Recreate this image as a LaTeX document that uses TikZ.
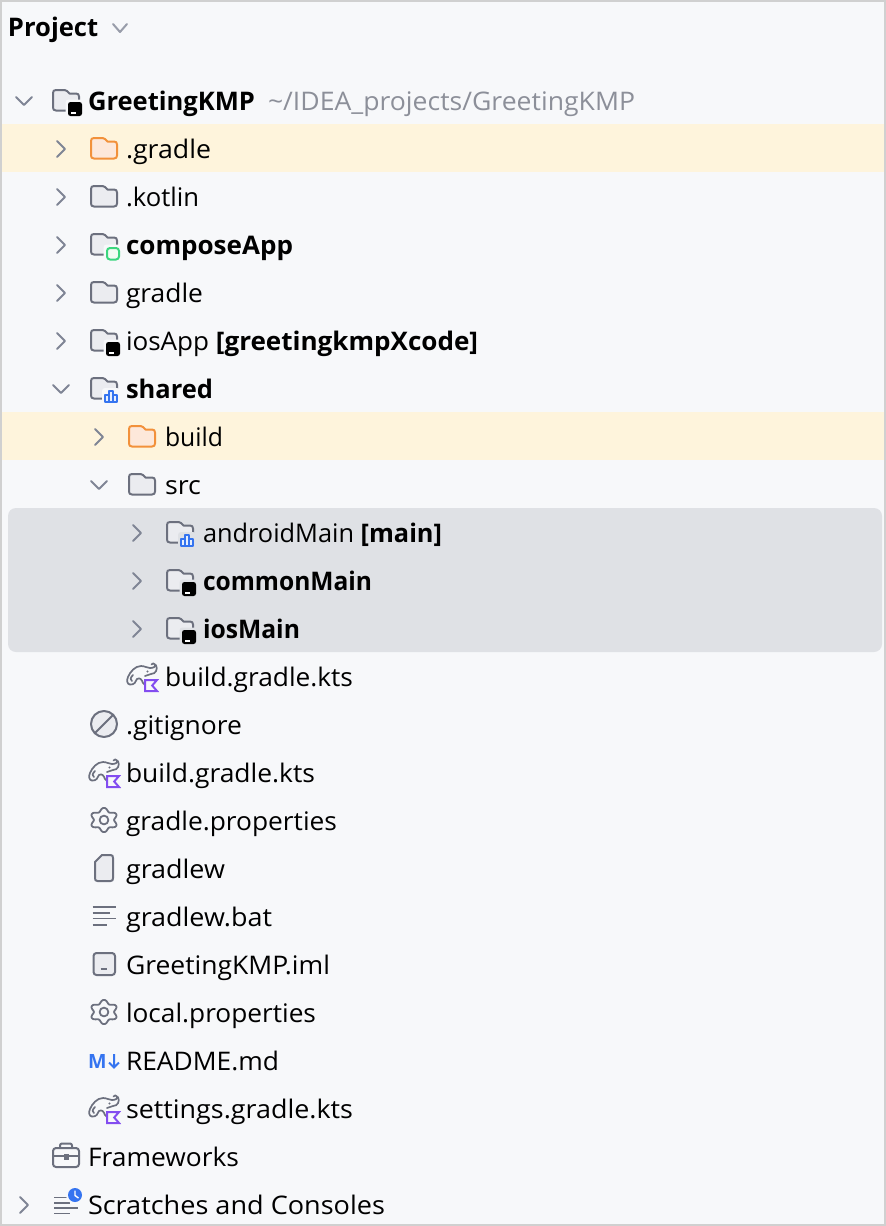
\documentclass[tikz,border=0pt]{standalone}
\usepackage{graphicx}
\usepackage{fontspec}
\setmainfont{Open Sans}
\definecolor{bgc}{HTML}{F7F8FA}
\definecolor{framec}{HTML}{D0D0D0}
\definecolor{hl}{HTML}{FEF4DC}
\definecolor{sel}{HTML}{DFE1E5}
\definecolor{ink}{HTML}{000000}
\definecolor{graytxt}{HTML}{8C8F99}
\definecolor{chev}{HTML}{7F8595}
\definecolor{iconline}{HTML}{6C707E}
\definecolor{iconfill}{HTML}{EBECF0}
\definecolor{orangeline}{HTML}{F2913B}
\definecolor{orangefill}{HTML}{FDE8DA}
\definecolor{greenline}{HTML}{3BD67E}
\definecolor{greenfill}{HTML}{F2FCF3}
\definecolor{bluec}{HTML}{3574F0}
\definecolor{bluelight}{HTML}{E7EFFD}
\definecolor{purplec}{HTML}{834DF0}
\tikzset{
  x=1pt,y=-1pt,
  txt/.style={anchor=base west,inner sep=0pt,outer sep=0pt,text=ink,font=\fontsize{25.6}{30}\selectfont},
  chevline/.style={draw=chev,line width=2pt,line cap=round,line join=round},
  iconl/.style={draw=iconline,line width=2pt,line join=round,line cap=round},
}
% name, x, cy, right end x, text
\newcommand{\rowlabel}[5]{\node[txt] (#1) at (#2,#3+9.5) {\resizebox{\dimexpr#4pt-#2pt\relax}{\height}{#5}};}
\newcommand{\chevR}[2]{\draw[chevline] (#1-4,#2-8) -- (#1+4,#2) -- (#1-4,#2+8);}
\newcommand{\chevD}[2]{\draw[chevline] (#1-8,#2-4) -- (#1,#2+4) -- (#1+8,#2-4);}
\newcommand{\folderpath}[4]{% x, cy, line, fill
  \begin{scope}[shift={(#1,#2)}]
  \draw[line width=2pt,line join=round,draw=#3,fill=#4]
   (1,-8) .. controls (1,-10) and (2,-11) .. (4,-11) -- (12.5,-11)
   .. controls (14,-11) and (14.5,-10.5) .. (15,-10) -- (17.5,-7.5) -- (24,-7.5)
   .. controls (26,-7.5) and (27,-6.5) .. (27,-4.5) -- (27,6.5)
   .. controls (27,8.5) and (26,9.5) .. (24,9.5) -- (4,9.5)
   .. controls (2,9.5) and (1,8.5) .. (1,6.5) -- cycle;
  \end{scope}}
\newcommand{\plainfolder}[2]{\folderpath{#1}{#2}{iconline}{iconfill}}
\newcommand{\orangefolder}[2]{\folderpath{#1}{#2}{orangeline}{orangefill}}
\newcommand{\badgeblack}[3]{%
  \fill[#3,rounded corners=3pt] (#1+13.5,#2-1.5) rectangle (#1+32,#2+17);
  \fill[black,rounded corners=2.5pt] (#1+16,#2+1) rectangle (#1+30,#2+15);
  \fill[white] (#1+19,#2+11) rectangle (#1+24,#2+12.5);}
\newcommand{\badgegreen}[3]{%
  \fill[#3,rounded corners=3pt] (#1+13.5,#2-0.5) rectangle (#1+32,#2+17);
  \draw[greenline,fill=greenfill,line width=2pt,rounded corners=3pt] (#1+17,#2+3) rectangle (#1+29,#2+14.5);}
\newcommand{\badgeblue}[3]{%
  \fill[#3,rounded corners=3pt] (#1+12,#2-1) rectangle (#1+30,#2+15.5);
  \draw[bluec,line width=2pt,line join=round,fill=bluelight]
    (#1+15,#2+12.5) -- (#1+15,#2+6) -- (#1+19,#2+6) -- (#1+19,#2+1.5) -- (#1+23,#2+1.5)
    -- (#1+23,#2+6) -- (#1+27,#2+6) -- (#1+27,#2+12.5) -- cycle;
  \draw[bluec,line width=1.8pt] (#1+19,#2+6) -- (#1+19,#2+12.5) (#1+23,#2+6) -- (#1+23,#2+12.5);}
\newcommand{\gradlekts}[2]{%
  \begin{scope}[shift={(#1,#2)}]
  \draw[iconline,line width=1.7pt,line cap=round,line join=round]
    (3,7.5) .. controls (0,7.5) and (-0.5,3) .. (1,0) .. controls (3,-5) and (8,-11) .. (14,-11)
    .. controls (18,-11) and (20,-9) .. (23,-9) .. controls (26,-9) and (29,-10) .. (28,-12.5)
    .. controls (27.5,-14) and (25,-14) .. (24.5,-12.5);
  \draw[iconline,line width=1.7pt,line cap=round,line join=round]
    (3,7.5) .. controls (7,8) and (9,5) .. (10,2) .. controls (13,0) and (15,3) .. (16,6) -- (18,8)
    (6,-2) .. controls (3,1) and (3,3) .. (5,4)
    (29,-12) .. controls (31,-8) and (29,-3) .. (24,-3) -- (18,-1);
  \fill[iconline] (20.5,-5.5) circle (1.1pt);
  \draw[purplec,line width=2pt,line join=miter,fill=bgc]
    (18,3) -- (30,3) -- (25.2,8.5) -- (30,14) -- (18,14) -- cycle;
  \end{scope}}
\newcommand{\gear}[2]{%
  \begin{scope}[shift={(#1,#2)}]
  \draw[iconl,line width=1.8pt,xscale=1.16] plot[domain=0:360,samples=97,smooth cycle] ({(10.4+1.7*cos(6*(\x-90)))*cos(\x)},{(10.4+1.7*cos(6*(\x-90)))*sin(\x)});
  \draw[iconl,line width=1.8pt] (0,0) circle (4.4);
  \end{scope}}
\begin{document}
\begin{tikzpicture}
\useasboundingbox (0,0) rectangle (886,1226);
\fill[framec] (0,0) rectangle (886,1226);
\fill[bgc] (2,2) rectangle (884,1224);
\fill[hl] (2,124) rectangle (884,172);
\fill[hl] (2,412) rectangle (884,460);
\fill[sel,rounded corners=8pt] (8,508) rectangle (882,652);

\node[txt,font=\fontsize{25.6}{30}\selectfont\bfseries] (title) at (8,36) {Project};
\draw[chevline,draw=chev!80!white] (113,24) -- (120,32) -- (127,24);

\chevD{24}{101}
\folderpath{52}{101}{iconline}{iconfill}\badgeblack{52}{101}{bgc}
\rowlabel{root}{88}{101}{255}{\textbf{GreetingKMP}}
\node[txt,text=graytxt] (rootpath) at (268,110.5) {\resizebox{367pt}{\height}{\char`\~/IDEA\_projects/GreetingKMP}};

\chevR{61}{149}\orangefolder{90}{149}\rowlabel{dotgradle}{126}{149}{211}{.gradle}
\chevR{61}{197}\plainfolder{90}{197}\rowlabel{dotkotlin}{126}{197}{199}{.kotlin}
\chevR{61}{245}\plainfolder{90}{245}\badgegreen{90}{245}{bgc}\rowlabel{compose}{126}{245}{293}{\textbf{composeApp}}
\chevR{61}{293}\plainfolder{90}{293}\rowlabel{gradledir}{126}{293}{203}{gradle}
\chevR{61}{341}\plainfolder{90}{341}\badgeblack{90}{341}{bgc}\rowlabel{iosapp}{126}{341}{478}{iosApp \textbf{[greetingkmpXcode]}}
\chevD{61}{389}\plainfolder{90}{389}\badgeblue{90}{389}{bgc}\rowlabel{shared}{126}{389}{213}{\textbf{shared}}
\chevR{99}{437}\orangefolder{128}{437}\rowlabel{build}{165}{437}{223}{build}
\chevD{99}{485}\plainfolder{128}{485}\rowlabel{src}{165}{485}{201}{src}
\chevR{137}{533}\plainfolder{166}{533}\badgeblue{166}{533}{sel}\rowlabel{android}{203}{533}{442}{androidMain \textbf{[main]}}
\chevR{137}{581}\plainfolder{166}{581}\badgeblack{166}{581}{sel}\rowlabel{common}{203}{581}{372}{\textbf{commonMain}}
\chevR{137}{629}\plainfolder{166}{629}\badgeblack{166}{629}{sel}\rowlabel{ios}{203}{629}{300}{\textbf{iosMain}}
\gradlekts{127}{677}\rowlabel{sbuild}{165}{677}{353}{build.gradle.kts}

\draw[iconl,fill=iconfill] (104,724) circle (13);
\draw[iconl,line width=1.8pt] (95,733) -- (113,715);
\rowlabel{gitignore}{126}{725}{242}{.gitignore}

\gradlekts{89}{773}\rowlabel{rbuild}{126}{773}{315}{build.gradle.kts}
\gear{104}{820}\rowlabel{gprops}{126}{821}{337}{gradle.properties}

\draw[iconl,fill=iconfill] (95,862) -- (102,855) -- (110.5,855) .. controls (112.5,855) and (113,856) .. (113,858) -- (113,878) .. controls (113,880) and (112.5,881) .. (110.5,881) -- (97.5,881) .. controls (95.5,881) and (95,880) .. (95,878) -- cycle;
\rowlabel{gradlew}{126}{869}{225}{gradlew}

\draw[iconl,line cap=butt,line width=1.7pt] (92.5,906.7) -- (116,906.7) (92.5,912.7) -- (110,912.7) (92.5,918.6) -- (116,918.6) (92.5,925) -- (107,925);
\rowlabel{gradlewbat}{126}{917}{272}{gradlew.bat}

\draw[iconl,fill=iconfill,rounded corners=3pt] (93.5,953) rectangle (115,975);
\draw[iconline,line width=1.6pt] (100.5,969) -- (106.5,969);
\rowlabel{iml}{126}{965}{330}{GreetingKMP.iml}

\gear{104}{1012}\rowlabel{lprops}{126}{1013}{316}{local.properties}

\node[inner sep=0pt,anchor=base west,text=bluec,font=\fontsize{19.6}{24}\selectfont\bfseries] (mdm) at (88,1068) {M};
\draw[bluec,line width=2pt] (114,1054) -- (114,1067) (109,1062.5) -- (114,1067.5) -- (119,1062.5);
\rowlabel{readme}{126}{1061}{279}{README.md}

\gradlekts{89}{1109}\rowlabel{settings}{126}{1109}{353}{settings.gradle.kts}

\draw[iconl,rounded corners=3pt] (53,1148) rectangle (79,1167);
\draw[iconl,rounded corners=2pt] (60,1148) -- (60,1143.5) -- (72,1143.5) -- (72,1148);
\draw[iconl] (53,1155.5) -- (79,1155.5);
\fill[iconline] (63.5,1154) rectangle (68.5,1159.5);
\rowlabel{frameworks}{88}{1157}{239}{Frameworks}

\chevR{24}{1205}
\draw[iconl,line cap=butt,line width=1.7pt] (54,1197.5) -- (68,1197.5) (54,1203) -- (70,1203) (54,1208) -- (77.5,1208) (54,1213.5) -- (70,1213.5);
\fill[bgc] (75,1195) circle (9);
\fill[bluec] (75,1195) circle (7);
\draw[white,line width=1.4pt] (75,1190.5) -- (75,1195.5) -- (78.5,1198);
\rowlabel{scratches}{88}{1205}{385}{Scratches and Consoles}
\end{tikzpicture}
\end{document}
